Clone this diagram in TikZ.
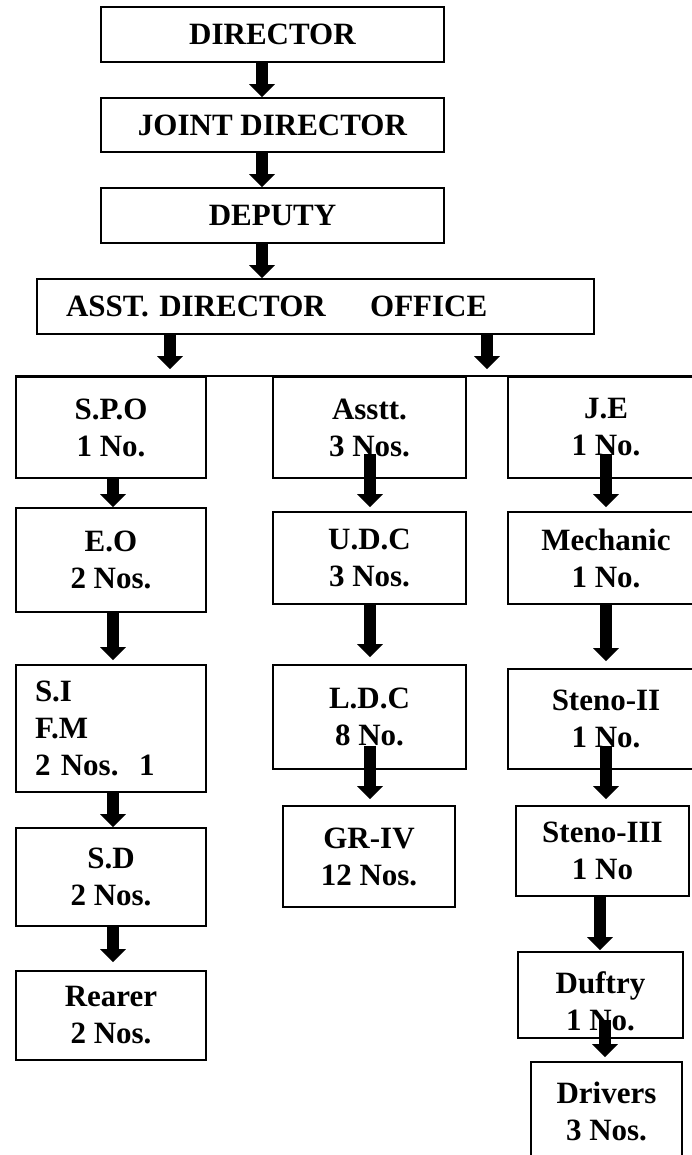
\documentclass[tikz,border=0pt]{standalone}
\usepackage{fontspec}
\setmainfont{Liberation Serif}
\usetikzlibrary{arrows.meta}
\begin{document}
\begin{tikzpicture}[x=1pt,y=1pt,
  box/.style={draw, line width=1.6pt, inner sep=0pt, align=center,
    font=\fontsize{31}{37}\selectfont\bfseries},
  blk/.style={line width=12pt, -{Triangle[length=13pt,width=25pt]}},
  topline/.style={line width=2pt}]
\useasboundingbox (0,0) rectangle (691,-1155);
% top chain
\node[box, minimum width=343pt, minimum height=55pt] (dir) at (272.5,-34.5) {DIRECTOR};
\node[box, minimum width=343pt, minimum height=54pt] (joint) at (272.5,-125) {JOINT DIRECTOR};
\node[box, minimum width=343pt, minimum height=55pt] (dep) at (272.5,-215.5) {DEPUTY};
\node[box, minimum width=557pt, minimum height=55pt, text width=499pt, inner xsep=29pt, align=left] (asst) at (315.5,-306.5) {ASST. DIRECTOR\hspace{34pt} OFFICE};
% column 1
\node[box, minimum width=190pt, minimum height=101pt] (spo) at (111,-427.5) {S.P.O\\1 No.};
\node[box, minimum width=190pt, minimum height=104pt] (eo) at (111,-560) {E.O\\2 Nos.};
\node[box, minimum width=190pt, minimum height=127pt, text width=152pt, inner xsep=19pt, align=left] (si) at (111,-728.5) {S.I\\F.M\\2 Nos.\ \ 1};
\node[box, minimum width=190pt, minimum height=98pt] (sd) at (111,-877) {S.D\\2 Nos.};
\node[box, minimum width=190pt, minimum height=89pt] (rearer) at (111,-1015.5) {Rearer\\2 Nos.};
% column 2
\node[box, minimum width=193pt, minimum height=101pt] (asstt) at (369.5,-427.5) {Asstt.\\3 Nos.};
\node[box, minimum width=193pt, minimum height=92pt] (udc) at (369.5,-558) {U.D.C\\3 Nos.};
\node[box, minimum width=193pt, minimum height=104pt] (ldc) at (369.5,-717) {L.D.C\\8 No.};
\node[box, minimum width=172pt, minimum height=101pt] (gr) at (369,-856.5) {GR-IV\\12 Nos.};
% column 3
\node[box, minimum width=196pt, minimum height=101pt] (je) at (606,-427.5) {J.E\\1 No.};
\node[box, minimum width=196pt, minimum height=92pt] (mech) at (606,-558) {Mechanic\\1 No.};
\node[box, minimum width=196pt, minimum height=100pt] (stwo) at (606,-719) {Steno-II\\1 No.};
\node[box, minimum width=173pt, minimum height=90pt] (sthree) at (602.5,-851) {Steno-III\\1 No};
\node[box, minimum width=165pt, minimum height=86pt] (duf) at (600.5,-995) {\rule{0pt}{35pt}Duftry\\1 No.};
\node[box, minimum width=151pt, minimum height=98pt] (drv) at (606.5,-1111) {Drivers\\3 Nos.};
% line joining the tops of the first row
\draw[topline] (spo.north west) -- (je.north east);
% arrows
\draw[blk] ([xshift=-10.5pt]dir.south) -- ([xshift=-10.5pt]joint.north);
\draw[blk] ([xshift=-10.5pt]joint.south) -- ([xshift=-10.5pt]dep.north);
\draw[blk] ([xshift=-10.5pt]dep.south) -- ([xshift=-53.5pt]asst.north);
\draw[blk] ([xshift=-145.5pt]asst.south) -- ([xshift=59pt,yshift=7pt]spo.north);
\draw[blk] ([xshift=171.5pt]asst.south) -- ([xshift=-119pt,yshift=7pt]je.north);
\draw[blk] ([xshift=2pt]spo.south) -- ([xshift=2pt]eo.north);
\draw[blk] ([xshift=2pt]eo.south) -- ([xshift=2pt,yshift=4pt]si.north);
\draw[blk] ([xshift=2pt]si.south) -- ([xshift=2pt]sd.north);
\draw[blk] ([xshift=2pt]sd.south) -- ([xshift=2pt,yshift=8pt]rearer.north);
\draw[blk] ([xshift=0.5pt,yshift=25pt]asstt.south) -- ([xshift=0.5pt,yshift=4pt]udc.north);
\draw[blk] ([xshift=0.5pt]udc.south) -- ([xshift=0.5pt,yshift=7pt]ldc.north);
\draw[blk] ([xshift=0.5pt,yshift=24pt]ldc.south) -- ([xshift=1pt,yshift=6pt]gr.north);
\draw[blk] ([yshift=25pt]je.south) -- ([yshift=4pt]mech.north);
\draw[blk] (mech.south) -- ([yshift=7pt]stwo.north);
\draw[blk] ([yshift=24pt]stwo.south) -- ([xshift=3.5pt,yshift=6pt]sthree.north);
\draw[blk] ([xshift=-2.5pt]sthree.south) -- ([xshift=-0.5pt,yshift=1pt]duf.north);
\draw[blk] ([xshift=4.5pt,yshift=19pt]duf.south) -- ([xshift=-1.5pt,yshift=4pt]drv.north);
\end{tikzpicture}
\end{document}
